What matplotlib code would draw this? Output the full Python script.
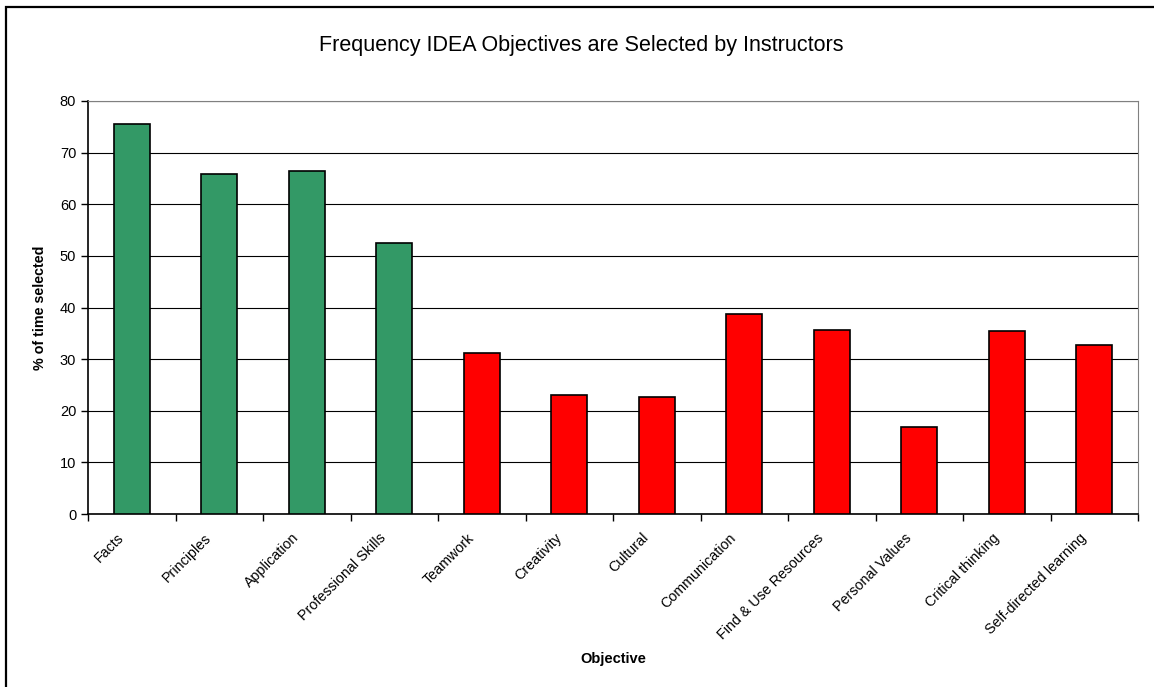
import numpy as np
import matplotlib
matplotlib.use('Agg')
import matplotlib.pyplot as plt
import matplotlib.transforms as mtransforms
from matplotlib.patches import Rectangle

plt.rcParams['font.family'] = ['Liberation Sans', 'DejaVu Sans']

# data
objectives = ['Facts', 'Principles', 'Application', 'Professional Skills',
              'Teamwork', 'Creativity', 'Cultural', 'Communication',
              'Find & Use Resources', 'Personal Values', 'Critical thinking',
              'Self-directed learning']
pct_selected = [75.6, 65.8, 66.4, 52.5, 31.2, 23.1, 22.6, 38.7, 35.7, 16.9, 35.5, 32.8]
n_green = 4

colors = ['#339966'] * n_green + ['#FF0000'] * (len(objectives) - n_green)

W, H = 1154, 687
fig = plt.figure(figsize=(W / 100, H / 100), dpi=100)
ax = fig.add_axes([88 / W, 1 - 514 / H, 1050 / W, 413 / H])

x = np.arange(len(objectives))
ax.bar(x, pct_selected, width=0.41, color=colors, edgecolor='black', linewidth=1.2, zorder=3)

ax.set_xlim(-0.5, len(objectives) - 0.5)
ax.set_ylim(0, 80)
ax.set_yticks(np.arange(0, 81, 10))
ax.yaxis.grid(True, color='black', linewidth=0.8, zorder=0)

# category labels at centers, tick marks at boundaries (Excel style)
ax.set_xticks(x)
ax.set_xticklabels(objectives, rotation=45, ha='right', rotation_mode='anchor', fontsize=10.3)
ax.tick_params(axis='x', which='major', length=0, pad=12)
shift = mtransforms.ScaledTranslation(-15 / 100, 0, fig.dpi_scale_trans)
for lbl in ax.get_xticklabels():
    lbl.set_transform(lbl.get_transform() + shift)
ax.set_xticks(np.arange(-0.5, len(objectives), 1), minor=True)
ax.tick_params(axis='x', which='minor', length=5, width=1, direction='out')
ax.tick_params(axis='y', length=5, width=1, direction='out', labelsize=10.5)

for s in ['top', 'right']:
    ax.spines[s].set_color('#808080')
for s in ['left', 'bottom']:
    ax.spines[s].set_color('black')
    ax.spines[s].set_linewidth(1.2)

ax.set_ylabel('% of time selected', fontsize=10.3, fontweight='bold')
ax.yaxis.set_label_coords((40 - 88) / 1050, 0.5)
ax.set_xlabel('Objective', fontsize=10.5, fontweight='bold')
ax.xaxis.set_label_coords(0.5, (514 - 659) / 413)
ax.xaxis.label.set_va('center')
ax.yaxis.label.set_va('center')

fig.text(581.5 / W, 1 - 46 / H, 'Frequency IDEA Objectives are Selected by Instructors',
         ha='center', va='center', fontsize=15.5)

# chart area border (top and left edges visible, rest runs off the image)
fig.patches.append(Rectangle((6 / W, -0.05), 1.1, 1 - 7 / H + 0.05, transform=fig.transFigure,
                             fill=False, edgecolor='black', linewidth=1.6))

fig.savefig('out.png', dpi=100)
